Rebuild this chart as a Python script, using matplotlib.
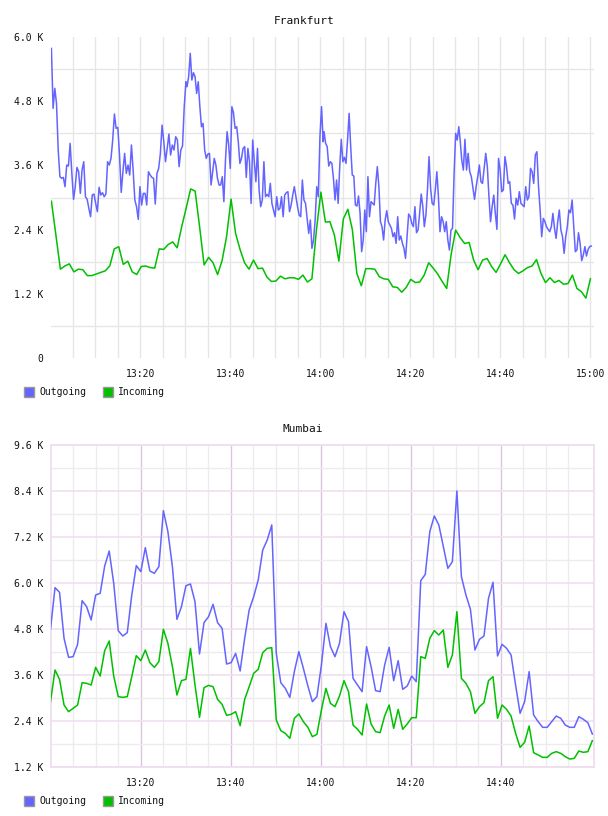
import numpy as np
import matplotlib
matplotlib.use("Agg")
import matplotlib.pyplot as plt
from matplotlib.patches import Rectangle

plt.rcParams['font.family'] = ['DejaVu Sans Mono', 'DejaVu Sans']

# ---------------- data ----------------
# Frankfurt outgoing, read in four stretches (start_min, end_min, count)
fra_out = [5787, 4666, 5040, 4759, 3887, 3389, 3358, 3376, 3202, 3607, 3588, 4012, 3451, 2965, 3202, 3563, 3482, 3077, 3513, 3669,
           3015, 2965, 2797, 2641, 3046, 3065, 2890, 2735, 3190, 3046, 3090, 3015, 3065, 3669, 3607, 3731, 4074, 4560, 4292, 4311,
           3794, 3096, 3482, 3825, 3451, 3607, 3420, 3981, 3513, 2953, 2828, 2591, 3202, 2859, 3077, 3077, 2859, 3482, 3420, 3376,
           3358, 2878, 3451, 3545, 3825, 4354, 4043, 3669, 3918, 4186, 3794, 3981, 3887, 4136, 4074, 3576, 3887, 3962, 4697, 5164,
           5071, 5258, 5694, 5195, 5332, 5258, 4946, 5164, 4697, 4323, 4386, 3887, 3731, 3812, 3825, 3233, 3482, 3731, 3607, 3358,
           3233, 3233, 3389, 2922, 3700, 4230, 3981, 3545, 4697, 4585, 4292, 4323, 4043, 3638, 3731, 3918, 3950, 3376, 3918, 3669,
           2890, 4074, 3669, 3295, 3918, 3140, 2828, 2953, 3669, 3015, 3059, 3015, 3264, 2890, 2766, 2641, 3015, 2766, 2797, 3015,
           2641, 3046, 3090, 3108, 2735, 2859, 3046, 3202, 3015, 2828, 2672, 2641, 3327, 2953, 2890, 2610, 2330, 2579, 2050, 2205,
           2579, 3202, 3015, 4136, 4697, 4043,
           4230, 4012, 3950, 3588, 3669, 3638, 3358, 2953, 3327, 2890, 3576, 4087, 3669, 3750, 3638, 4074, 4572, 3950, 3420, 3401,
           2859, 2840, 3027, 2703, 1987, 2205, 2766, 2361, 3389, 2641, 2922, 2890, 2859, 3264, 3576, 3202, 2548, 2454, 2205, 2579,
           2753, 2548, 2486, 2423, 2267, 2342, 2143, 2641, 2205, 2280, 2143, 2050, 1862, 2267, 2691, 2641, 2517, 2454, 2828, 2342,
           2392, 2703, 3065, 2840, 2454, 2672, 3140, 3763, 3171, 2890, 2859, 3140, 3482, 3015, 2361, 2641, 2548, 2361, 2548, 2205,
           2018, 2392, 2423, 3451, 4199, 4074, 4323,
           4074, 3700, 3513, 4087, 3513, 3825, 3482, 3389, 3171, 2965, 3202, 3389, 3607, 3295, 3264, 3545, 3825, 3576, 3015, 2548,
           2828, 3046, 2703, 2404, 3731, 3513, 3108, 3140, 3763, 3576, 3264, 3295, 2890, 2859, 2597, 2984, 2859, 3108, 2890, 2859,
           2828, 3202, 2953, 3015, 3545, 3482, 3264, 3794, 3856, 3202, 2766, 2267, 2610, 2548, 2454, 2404, 2361, 2454, 2703, 2423,
           2236, 2548, 2766, 2392, 2267, 1956, 2267, 2454, 2766, 2716, 2953, 2454, 1987, 2018, 2342, 2143, 1819, 1925, 2081, 1906,
           2031, 2081, 2093]
fra_out_spans = [(0.2, 30.1, 80), (30.35, 60.6, 86), (60.8, 90.75, 87), (91.05, 120.2, 83)]

# Frankfurt incoming, one value per minute from 13:00
fra_in = [2930, 2300, 1660, 1720, 1760, 1610, 1660, 1650, 1540, 1540, 1570, 1600, 1630, 1720, 2040, 2080, 1750, 1810, 1610, 1560,
          1710, 1720, 1690, 1680, 2040, 2030, 2120, 2170, 2060, 2450, 2800, 3160, 3120, 2450, 1740, 1880, 1780, 1560, 1820, 2270,
          2970, 2330, 2030, 1780, 1660, 1830, 1670, 1680, 1510, 1430, 1440, 1530, 1480, 1500, 1500, 1470, 1550, 1420, 1480, 2390,
          3100, 2540, 2550, 2300, 1810, 2600, 2780, 2400, 1580, 1350, 1670, 1670, 1660, 1520, 1480, 1470, 1330, 1320, 1230, 1320,
          1470, 1410, 1420, 1550, 1780, 1680, 1570, 1430, 1300, 1940, 2390, 2250, 2140, 2160, 1830, 1650, 1830, 1860, 1710, 1600,
          1760, 1930, 1780, 1650, 1580, 1630, 1690, 1720, 1840, 1580, 1410, 1500, 1410, 1450, 1380, 1390, 1550, 1300, 1240, 1120,
          1480]

# Mumbai, one value per minute from 13:00
mum_out = [4784, 5871, 5749, 4549, 4053, 4070, 4392, 5531, 5375, 5027, 5679, 5723, 6436, 6827, 5983, 4749, 4610, 4697, 5679, 6445,
           6288, 6914, 6306, 6245, 6419, 7879, 7332, 6419, 5044, 5375, 5923, 5966, 5505, 4140, 4958, 5114, 5436, 4958, 4810, 3879,
           3914, 4157, 3697, 4549, 5288, 5636, 6071, 6853, 7114, 7506, 4157, 3392, 3244, 3009, 3679, 4201, 3766, 3305, 2896, 3027,
           3853, 4940, 4331, 4070, 4418, 5244, 4984, 3505, 3331, 3157, 4331, 3810, 3183, 3157, 3853, 4314, 3444, 3966, 3218, 3305,
           3566, 3418, 6053, 6218, 7332, 7740, 7506, 6940, 6375, 6549, 8393, 6158, 5679, 5305, 4244, 4523, 4610, 5592, 6010, 4088,
           4392, 4288, 4114, 3331, 2592, 2896, 3679, 2548, 2375, 2227, 2227, 2375, 2522, 2462, 2288, 2227, 2227, 2505, 2436, 2349,
           2053]
mum_in = [2896, 3723, 3479, 2809, 2635, 2722, 2809, 3392, 3375, 3331, 3792, 3566, 4227, 4479, 3566, 3027, 3009, 3027, 3549, 4097,
          3966, 4244, 3914, 3792, 3940, 4784, 4418, 3810, 3070, 3444, 3479, 4288, 3331, 2488, 3262, 3322, 3288, 2957, 2827, 2540,
          2566, 2635, 2270, 2957, 3288, 3636, 3740, 4175, 4288, 4305, 2418, 2140, 2070, 1940, 2462, 2575, 2375, 2227, 1983, 2044,
          2679, 3244, 2853, 2766, 3044, 3444, 3157, 2288, 2175, 2027, 2835, 2314, 2114, 2088, 2522, 2809, 2201, 2696, 2175, 2314,
          2479, 2479, 4070, 4027, 4549, 4749, 4636, 4766, 3792, 4114, 5244, 3505, 3375, 3157, 2592, 2766, 2870, 3444, 3549, 2462,
          2809, 2696, 2522, 2070, 1705, 1835, 2262, 1566, 1505, 1444, 1444, 1548, 1592, 1548, 1462, 1400, 1418, 1609, 1575, 1592,
          1879]

fra_ticks = [0, 1200, 2400, 3600, 4800, 6000]
fra_ticklabels = ['0', '1.2 K', '2.4 K', '3.6 K', '4.8 K', '6.0 K']
mum_ticks = [1200, 2400, 3600, 4800, 6000, 7200, 8400, 9600]
mum_ticklabels = ['1.2 K', '2.4 K', '3.6 K', '4.8 K', '6.0 K', '7.2 K', '8.4 K', '9.6 K']
fra_xticks = [20, 40, 60, 80, 100, 120]
fra_xlabels = ['13:20', '13:40', '14:00', '14:20', '14:40', '15:00']
mum_xticks = [20, 40, 60, 80, 100]
mum_xlabels = ['13:20', '13:40', '14:00', '14:20', '14:40']
series_names = ['Outgoing', 'Incoming']
titles = ['Frankfurt', 'Mumbai']

# ---------------- style ----------------
C_OUT = '#6464ff'
C_IN = '#00c000'
W, H = 608, 816

def fx(p):
    return p / W

def fy(p):
    return 1 - p / H

fig = plt.figure(figsize=(W / 100, H / 100), dpi=100)
fig.patch.set_facecolor('white')

# ---- Frankfurt ----
ax1 = fig.add_axes([fx(50.5), fy(358), fx(594) - fx(50.5), fy(37) - fy(358)])
t_out = np.concatenate([np.linspace(a, b, n) for a, b, n in fra_out_spans])
ax1.plot(t_out, fra_out, color=C_OUT, lw=1.1, zorder=3)
ax1.plot(np.linspace(0.2, 120, len(fra_in)), fra_in, color=C_IN, lw=1.1, zorder=3)
ax1.set_xlim(0, 120.8)
ax1.set_ylim(0, 6000)
ax1.set_yticks(fra_ticks)
ax1.set_yticklabels(fra_ticklabels)
ax1.set_yticks(np.arange(600, 6000, 1200), minor=True)
ax1.set_xticks(fra_xticks)
ax1.set_xticklabels(fra_xlabels)
ax1.set_xticks(np.arange(5, 121, 5), minor=True)
ax1.grid(False)
ax1.grid(True, which='minor', axis='both', color='#e6e6e6', lw=1.0)
ax1.grid(True, which='major', axis='x', color='#e6e6e6', lw=1.0)
for s in ax1.spines.values():
    s.set_visible(False)
ax1.set_axisbelow(True)

# ---- Mumbai ----
ax2 = fig.add_axes([fx(50.5), fy(766.7), fx(593.7) - fx(50.5), fy(444.7) - fy(766.7)])
t_m = np.linspace(0, 120.4, len(mum_out))
ax2.plot(t_m, mum_out, color=C_OUT, lw=1.1, zorder=3)
ax2.plot(t_m, mum_in, color=C_IN, lw=1.1, zorder=3)
ax2.set_xlim(0, 120.7)
ax2.set_ylim(1200, 9600)
ax2.set_yticks(mum_ticks)
ax2.set_yticklabels(mum_ticklabels)
ax2.set_yticks(np.arange(1800, 9600, 1200), minor=True)
ax2.set_xticks(mum_xticks)
ax2.set_xticklabels(mum_xlabels)
ax2.set_xticks([m for m in range(5, 120, 5) if m % 20], minor=True)
ax2.grid(True, which='minor', axis='both', color='#ececec', lw=1.0)
ax2.grid(True, which='major', axis='y', color='#f0e0f0', lw=1.2)
ax2.grid(True, which='major', axis='x', color='#dcc4dc', lw=1.0)
for s in ax2.spines.values():
    s.set_color('#eedcee')
    s.set_linewidth(1.2)
ax2.set_axisbelow(True)

for ax in (ax1, ax2):
    ax.tick_params(which='both', length=0, labelsize=7, colors='#111111')
    ax.tick_params(axis='y', pad=5)
    ax.tick_params(axis='x', pad=8)
    ax.set_facecolor('white')

# titles
fig.text(fx(304), fy(20.5), titles[0], ha='center', va='center', fontsize=8, color='#111111')
fig.text(fx(303), fy(429), titles[1], ha='center', va='center', fontsize=8, color='#111111')

# legends
def legend(ycen):
    for (x0, xt), name, col in zip([(24.3, 39), (102.7, 118)], series_names, [C_OUT, C_IN]):
        fig.add_artist(Rectangle((fx(x0), fy(ycen + 5)), 10 / W, 10 / H, transform=fig.transFigure,
                                 facecolor=col, edgecolor='#999999', lw=1.0))
        fig.text(fx(xt), fy(ycen), name, ha='left', va='center', fontsize=7, color='#111111')

legend(392.3)
legend(800.7)

fig.savefig('out.png', dpi=100, facecolor='white')
